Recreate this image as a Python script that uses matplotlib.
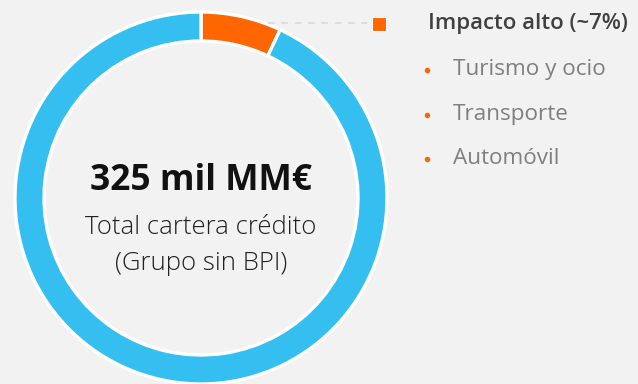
import matplotlib
matplotlib.use("Agg")
import matplotlib.pyplot as plt

# cartera de crédito por nivel de impacto (%)
segmentos = ["Impacto alto", "Resto"]
pesos = [7, 93]
colores = ["#FF6600", "#35BFF0"]

total_txt = "325 mil MM€"
sub_txt = ["Total cartera crédito", "(Grupo sin BPI)"]
leyenda_titulo = "Impacto alto (~7%)"
sectores = ["Turismo y ocio", "Transporte", "Automóvil"]

plt.rcParams["font.family"] = ["Open Sans", "DejaVu Sans"]

W, H = 638, 384
fig = plt.figure(figsize=(W / 100, H / 100), dpi=100, facecolor="#F2F2F2")
ax = fig.add_axes([0, 0, 1, 1])

cx, cy, R = 201, H - 198, 186
ax.pie(pesos, colors=colores, startangle=90, counterclock=False,
       center=(cx, cy), radius=R, frame=True,
       wedgeprops=dict(width=29, edgecolor="white", linewidth=2.4))
ax.set_xlim(0, W)
ax.set_ylim(0, H)
ax.set_aspect("equal")
ax.axis("off")

# textos del centro
ax.text(cx, H - 181, total_txt, ha="center", va="center",
        fontsize=25.5, fontweight="bold", color="#111111")
ax.text(cx, H - 228, sub_txt[0], ha="center", va="center",
        fontsize=18.5, fontweight="light", color="#222222")
ax.text(cx, H - 263, sub_txt[1], ha="center", va="center",
        fontsize=18.5, fontweight="light", color="#222222")

# leyenda
ax.plot([268, 367], [H - 22.5, H - 22.5], ls=(0, (4, 4)), color="#D9D9D9", lw=1.2)
ax.plot([379], [H - 24], marker="s", ms=10, color="#FF6600", mec="white", mew=0.8)
ax.text(428, H - 23, leyenda_titulo, ha="left", va="center",
        fontsize=16, fontweight="semibold", color="#404040")
for i, s in enumerate(sectores):
    y = H - (70 + 44.5 * i)
    ax.plot([427], [y], marker="o", ms=4, color="#FF6600", mec="none")
    ax.text(453, y, s, ha="left", va="center", fontsize=16.2, color="#7F7F7F")

fig.savefig("out.png", dpi=100, facecolor=fig.get_facecolor())
